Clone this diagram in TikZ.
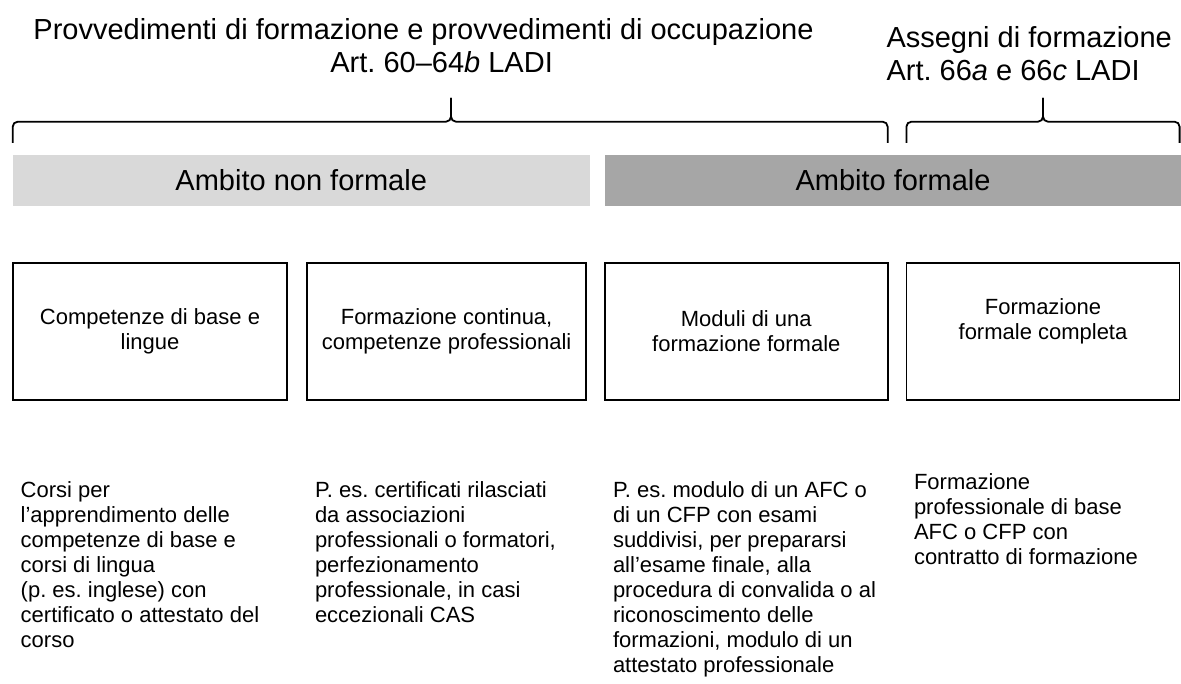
\documentclass[tikz,border=0pt]{standalone}
\usepackage{fontspec}
\setmainfont{Liberation Sans}
\usepackage{xcolor}
\usetikzlibrary{positioning}

\definecolor{nfgray}{HTML}{D9D9D9}
\definecolor{fgray}{HTML}{A6A6A6}
\newcommand{\bigtxt}{\fontsize{29}{33}\selectfont}
\newcommand{\smalltxt}{\fontsize{22}{25}\selectfont}
\frenchspacing

\begin{document}
\begin{tikzpicture}[
  x=1pt, y=-1pt,
  every node/.style={inner sep=0pt, outer sep=0pt},
  title/.style={font=\bigtxt, anchor=base},
  bar/.style={font=\bigtxt, minimum height=50.7pt, anchor=north west},
  box/.style={draw, line width=1.7pt, font=\smalltxt, align=center,
              minimum height=137pt},
  desc/.style={font=\smalltxt, align=left, anchor=north west},
  brace/.style={line width=1.8pt, rounded corners=5pt},
]
\useasboundingbox (0,0) rectangle (1181,684);

% titles
\node[title] (titlenf)    at (423.5,40) {Provvedimenti di formazione e provvedimenti di occupazione};
\node[title] (titlenfart) at (441.6,73) {Art. 60–64\textit{b} LADI};
\node[title, anchor=base west] (titlefo)    at (886.5,48) {Assegni di formazione};
\node[title, anchor=base west] (titlefoart) at (886.5,81) {Art. 66\textit{a} e 66\textit{c} LADI};

% ambiti
\node[bar, fill=nfgray, minimum width=577pt] (nonformal) at (12.7,155) {Ambito non formale};
\node[bar, fill=fgray,  minimum width=576pt] (formal)    at (605,155)  {Ambito formale};

% boxes
\node[box, minimum width=274.6pt] (kbase) at (150,331.5)   {Competenze di base e\\lingue};
\node[box, minimum width=278.7pt] (kprof) at (446.6,331.5) {Formazione continua,\\competenze professionali};
\node[box, minimum width=282.7pt] (modul) at (746.3,331.5) {Moduli di una\\formazione formale};
\node[box, minimum width=273.2pt] (compl) at (1043,331.5)  {Formazione\\formale completa\\\mbox{}};

% braces
\draw[brace] (kbase.west |- 0,143) -- (kbase.west |- 0,121.7) -- (451,121.7) -- (451,98);
\draw[brace] (451,98) -- (451,121.7) -- (modul.east |- 0,121.7) -- (modul.east |- 0,143);
\draw[brace] (compl.west |- 0,143) -- (compl.west |- 0,121.7) -- (1043,121.7) -- (1043,98);
\draw[brace] (1043,98) -- (1043,121.7) -- (compl.east |- 0,121.7) -- (compl.east |- 0,143);

% descriptions
\node[desc] (dbase) at (20.7,482) {Corsi per\\l’apprendimento delle\\competenze di base e\\corsi di lingua\\(p. es. inglese) con\\certificato o attestato del\\corso};
\node[desc] (dprof) at (315,482) {P. es. certificati rilasciati\\da associazioni\\professionali o formatori,\\perfezionamento\\professionale, in casi\\eccezionali CAS};
\node[desc] (dmodul) at (613,482) {P. es. modulo di un AFC o\\di un CFP con esami\\suddivisi, per prepararsi\\all’esame finale, alla\\procedura di convalida o al\\riconoscimento delle\\formazioni, modulo di un\\attestato professionale};
\node[desc] (dcompl) at (914,474) {Formazione\\professionale di base\\AFC o CFP con\\contratto di formazione};
\end{tikzpicture}
\end{document}
